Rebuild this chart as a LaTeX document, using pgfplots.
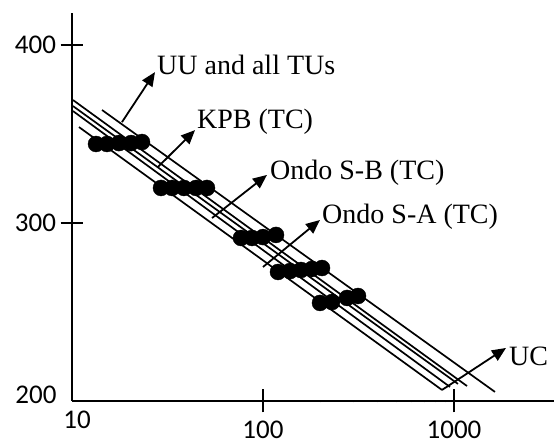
\documentclass[border=0pt]{standalone}
\usepackage{fontspec}
\setmainfont{Liberation Serif}
\newfontfamily\carlito{Carlito}
\usepackage{pgfplots}
\pgfplotsset{compat=1.18}
\usetikzlibrary{arrows.meta}
\begin{document}
\begin{tikzpicture}
\useasboundingbox (0pt,0pt) rectangle (554pt,446pt);
\begin{axis}[
  at={(72pt,45pt)}, anchor=south west,
  scale only axis, width=482pt, height=388pt,
  xmode=log, xmin=10, xmax=3339, ymin=200, ymax=418,
  axis lines=left, axis line style={-, line width=1.3pt},
  clip=false,
  tick align=center, major tick length=23pt,
  tick style={line width=1.3pt, black},
  xtick={100,1000}, xticklabels={100,1000},
  ytick={300,400}, yticklabels={300,400},
  minor xtick={}, minor ytick={},
  extra x ticks={10}, extra x tick labels={10},
  extra y ticks={200}, extra y tick labels={200},
  extra x tick style={major tick length=0pt, xticklabel style={xshift=5pt, yshift=-1pt}},
  extra y tick style={major tick length=0pt, yticklabel style={xshift=-11pt, yshift=6pt}},
  ticklabel style={font=\carlito\fontsize{27}{27}\selectfont},
  xticklabel style={yshift=-5pt},
  yticklabel style={xshift=-1pt},
]
% parallel lines
\addplot[black, line width=1.7pt] coordinates {(14.36,363.5) (1639,205.1)};
\addplot[black, line width=1.7pt] coordinates {(10.12,369.1) (1170,208.4)};
\addplot[black, line width=1.7pt] coordinates {(10.12,365.7) (1049,209.6)};
\addplot[black, line width=1.7pt] coordinates {(10.12,362.9) (952.8,207.9)};
\addplot[black, line width=1.7pt] coordinates {(10.88,353.9) (865.3,206.2)};
% dot clusters
\addplot[only marks, mark=*, mark size=8pt, black] coordinates {(13.36,344.4) (15.25,344.4) (17.62,344.9) (20.37,344.9) (23.25,345.5)};
\addplot[only marks, mark=*, mark size=8pt, black] coordinates {(29.24,319.7) (33.39,319.7) (38.58,319.7) (44.6,319.7) (50.9,319.7)};
\addplot[only marks, mark=*, mark size=8pt, black] coordinates {(76.7,291.6) (87.6,291.6) (100,292.1) (117.0,293.3)};
\addplot[only marks, mark=*, mark size=8pt, black] coordinates {(119.8,272.5) (138.5,273.0) (158.1,273.6) (180.5,274.2) (203.7,274.7)};
\addplot[only marks, mark=*, mark size=8pt, black] coordinates {(198.8,255.1) (229.8,255.6) (275.4,257.9) (314.4,259.0)};
% annotation arrows
\draw[line width=1.8pt, -{Triangle[length=14pt,width=12pt]}] (axis cs:18.27,356.7) -- (axis cs:27.2,384.8);
\draw[line width=1.8pt, -{Triangle[length=14pt,width=12pt]}] (axis cs:28.2,331.5) -- (axis cs:44.06,352.2);
\draw[line width=1.8pt, -{Triangle[length=14pt,width=12pt]}] (axis cs:54.1,302.8) -- (axis cs:104.9,327.0);
\draw[line width=1.8pt, -{Triangle[length=14pt,width=12pt]}] (axis cs:100,275.3) -- (axis cs:198.8,301.7);
\draw[line width=1.8pt, -{Triangle[length=14pt,width=12pt]}] (axis cs:865.3,206.2) -- (axis cs:1872,229.8);
% annotation texts
\node[anchor=west, inner sep=0pt, font=\fontsize{28}{28}\selectfont] at (axis cs:27.86,388.8) {UU and all TUs};
\node[anchor=west, inner sep=0pt, font=\fontsize{28}{28}\selectfont] at (axis cs:45.1,356.7) {KPB (TC)};
\node[anchor=west, inner sep=0pt, font=\fontsize{28}{28}\selectfont] at (axis cs:108.8,328.1) {Ondo S-B (TC)};
\node[anchor=west, inner sep=0pt, font=\fontsize{28}{28}\selectfont] at (axis cs:203.7,303.4) {Ondo S-A (TC)};
\node[anchor=west, inner sep=0pt, font=\fontsize{28}{28}\selectfont] at (axis cs:1941,225.3) {UC};
\end{axis}
\end{tikzpicture}
\end{document}
